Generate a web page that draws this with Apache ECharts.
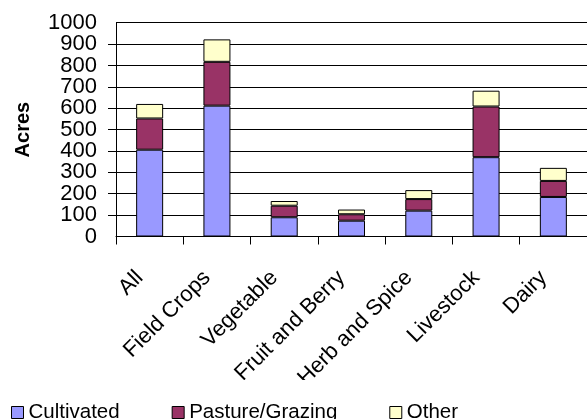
<!DOCTYPE html>
<html>
<head>
<meta charset="utf-8">
<script src="https://cdn.jsdelivr.net/npm/echarts@6/dist/echarts.min.js"></script>
<style>html,body{margin:0;padding:0;background:#fff}#c{width:587px;height:419px}</style>
</head>
<body>
<div id="c"></div>
<script>
const categories = ['All', 'Field Crops', 'Vegetable', 'Fruit and Berry', 'Herb and Spice', 'Livestock', 'Dairy'];
const cultivated = [406, 612, 90, 74, 121, 371, 185];
const pasture = [146, 205, 54, 30, 54, 237, 75];
const other = [68, 105, 22, 22, 42, 74, 61];
const yTicks = [0, 100, 200, 300, 400, 500, 600, 700, 800, 900, 1000];
const seriesNames = ['Cultivated', 'Pasture/Grazing', 'Other'];
const colors = ['#9999FF', '#993366', '#FFFFCC'];

const FONT = '"Liberation Sans", Arial, sans-serif';
const yMin = yTicks[0], yMax = yTicks[yTicks.length - 1];
const chart = echarts.init(document.getElementById('c'), null, {renderer: 'canvas'});
const mk = (name, data, color) => ({
  name, type: 'bar', stack: 'total', data, barWidth: 27, yAxisIndex: 0,
  itemStyle: {color, borderColor: '#000', borderWidth: 1},
  emphasis: {disabled: true}
});
const labelBase = {margin: 19, fontSize: 22, color: '#000', fontFamily: FONT};
chart.setOption({
  animation: false,
  textStyle: {fontFamily: FONT, color: '#000'},
  grid: {left: 116, right: -3, top: 22.7, bottom: 182.5, containLabel: false},
  xAxis: {
    type: 'category', data: categories,
    axisLine: {lineStyle: {color: '#000', width: 1}},
    axisTick: {show: true, length: 8, inside: false, alignWithLabel: false, lineStyle: {color: '#000'}},
    axisLabel: {rotate: 45, margin: 28, padding: [0, 14, 0, 0], fontSize: 22, color: '#000', fontFamily: FONT, interval: 0}
  },
  yAxis: [{
    type: 'value', min: yMin, max: yMax, interval: 100, position: 'left',
    name: 'Acres', nameLocation: 'middle', nameGap: 83, nameRotate: 90,
    nameTextStyle: {fontSize: 20, fontWeight: 'bold', color: '#000', fontFamily: FONT},
    axisLine: {show: true, lineStyle: {color: '#000', width: 1}},
    axisTick: {show: true, length: 8, lineStyle: {color: '#000'}},
    axisLabel: Object.assign({}, labelBase, {showMinLabel: false, showMaxLabel: false, formatter: v => String(v)}),
    splitLine: {show: true, lineStyle: {color: '#000', width: 1}}
  }, {
    type: 'value', min: yMin, max: yMax, interval: 100, position: 'left', offset: 0,
    axisLine: {show: false}, axisTick: {show: false}, splitLine: {show: false},
    axisLabel: Object.assign({}, labelBase, {showMinLabel: true, showMaxLabel: true,
      formatter: v => (v === yMin || v === yMax) ? String(v) : ''})
  }],
  legend: {
    data: seriesNames, left: 11, top: 402, z: 100, padding: 0,
    itemWidth: 12, itemHeight: 12, itemGap: 52,
    icon: 'rect',
    textStyle: {fontSize: 20.5, color: '#000', fontFamily: FONT},
    itemStyle: {borderColor: '#000', borderWidth: 1}
  },
  graphic: [{type: 'rect', z: 50, shape: {x: 0, y: 380, width: 587, height: 39}, style: {fill: '#fff'}}],
  series: [mk(seriesNames[0], cultivated, colors[0]), mk(seriesNames[1], pasture, colors[1]), mk(seriesNames[2], other, colors[2])]
});
</script>
</body>
</html>
